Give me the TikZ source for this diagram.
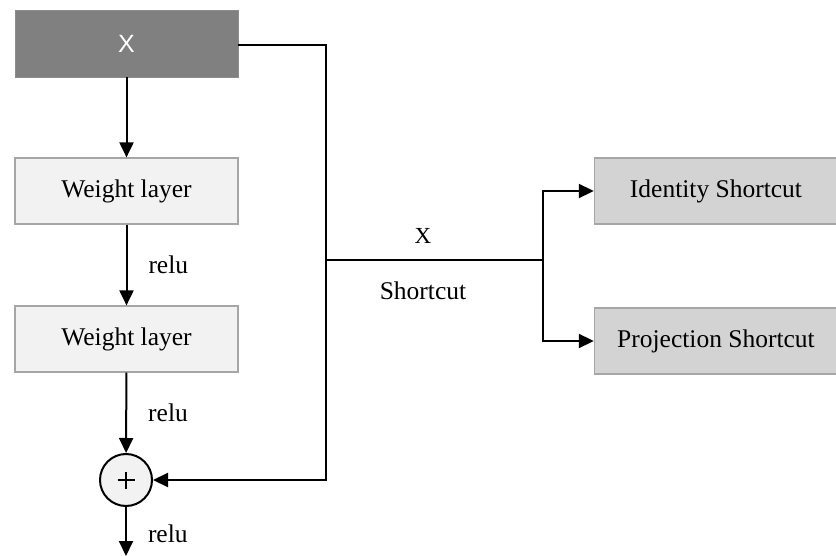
\documentclass[tikz,border=0pt]{standalone}
\usepackage{fontspec}
\setmainfont{Liberation Serif}
\setsansfont{Liberation Sans}
\usetikzlibrary{arrows.meta}
\definecolor{inputgray}{HTML}{808080}
\definecolor{layerfill}{HTML}{F2F2F2}
\definecolor{shortfill}{HTML}{D3D3D3}
\definecolor{edgegray}{HTML}{A6A6A6}
\begin{document}
\begin{tikzpicture}[x=1pt,y=-1pt,
  txt/.style={font=\fontsize{25.5}{28}\selectfont},
  inputbox/.style={fill=inputgray,draw=inputgray!90!white,minimum width=223pt,minimum height=67pt,inner sep=0pt,text=white,font=\sffamily\fontsize{25}{27}\selectfont},
  layerbox/.style={txt,fill=layerfill,draw=edgegray,line width=1.2pt,minimum width=223pt,minimum height=66pt,inner sep=0pt},
  shortbox/.style={txt,fill=shortfill,draw=edgegray,line width=1.4pt,minimum width=243pt,minimum height=66pt,inner sep=0pt},
  sumnode/.style={circle,fill=layerfill,draw=black,line width=2pt,minimum size=52pt,inner sep=0pt},
  conn/.style={line width=2pt,-{Triangle[length=15pt,width=14pt]}},
  wire/.style={line width=2pt},
  lbl/.style={txt,inner sep=0pt}]
\useasboundingbox (0,0) rectangle (836,556);

\node[inputbox] (x) at (126.5,43.5) {X};
\node[layerbox] (w1) at (126.5,191) {Weight layer};
\node[layerbox] (w2) at (126.5,339) {Weight layer};
\node[sumnode] (sum) at (126,480) {};
% plus sign inside the summation node
\draw[line width=2pt] ([xshift=-8.5pt]sum.center) -- ([xshift=8.5pt]sum.center)
  ([yshift=-8.5pt]sum.center) -- ([yshift=8.5pt]sum.center);
\coordinate (out) at (126,556);

\node[shortbox] (id) at (716,191) {Identity Shortcut};
\node[shortbox] (proj) at (716,341) {Projection Shortcut};

\coordinate (skipA) at (326,45);
\coordinate (skipB) at (326,480);
\coordinate (branch) at (543,260);
\coordinate (skipM) at (326,260);

% main path
\draw[conn] (x) -- (w1);
\draw[conn] (w1) -- node[lbl,right=21pt] {relu} (w2);
\draw[conn] (w2) -- node[lbl,right=21pt] {relu} (sum);
\draw[conn] (sum) -- node[lbl,right=21pt,pos=0.55] {relu} (out);

% identity skip
\draw[conn] (x.east |- skipA) -- (skipA) -- (skipB) -- (sum);

% shortcut types
\draw[wire] (skipM) -- (branch);
\node[lbl,font=\fontsize{23}{25}\selectfont] (xlabel) at (423,236) {X};
\node[lbl] (slabel) at (423,291) {Shortcut};
\draw[conn] (branch) |- (id.west);
\draw[conn] (branch) |- (proj.west);
\end{tikzpicture}
\end{document}
